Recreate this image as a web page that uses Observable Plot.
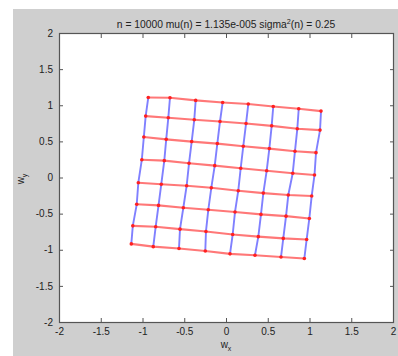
<!DOCTYPE html>
<html>
<head>
<meta charset="utf-8">
<script src="https://cdn.jsdelivr.net/npm/d3@7"></script>
<script src="https://cdn.jsdelivr.net/npm/@observablehq/plot@0.6"></script>
<style>
  html, body { margin: 0; padding: 0; background: #ffffff; }
  #wrap { position: relative; width: 398px; height: 356px; overflow: hidden; font-family: "Liberation Sans", Arial, sans-serif; }
  #bg { position: absolute; left: 13px; top: 9px; right: 0; bottom: 0; background: #cfcfcf; }
  #chart { position: absolute; left: 0; top: 0; }
  .lbl { position: absolute; color: #222; white-space: nowrap; line-height: 10px; }
  sub, sup { font-size: 70%; line-height: 0; }
</style>
</head>
<body>
<div id="wrap">
  <div id="bg"></div>
  <div id="chart"></div>
  <div class="lbl" id="title" style="left:226px; top:19.5px; font-size:10.3px; transform:translateX(-50%);">n = 10000 mu(n) = 1.135e-005 sigma<sup>2</sup>(n) = 0.25</div>
  <div class="lbl" id="xlab" style="left:226px; top:340px; font-size:10px; transform:translateX(-50%);">w<sub>x</sub></div>
  <div class="lbl" id="ylab" style="left:21px; top:179px; font-size:10px; transform:translate(-50%,-50%) rotate(-90deg);">w<sub>y</sub></div>
</div>
<script>
// SOM weight grid (8 x 8 nodes): wx[row][col], wy[row][col]
const wx = [
  [-0.937, -0.677, -0.369, -0.046, 0.261, 0.560, 0.865, 1.132],
  [-0.968, -0.697, -0.386, -0.078, 0.234, 0.541, 0.848, 1.120],
  [-0.990, -0.722, -0.417, -0.110, 0.201, 0.513, 0.820, 1.072],
  [-1.014, -0.745, -0.449, -0.141, 0.170, 0.481, 0.793, 1.054],
  [-1.056, -0.781, -0.477, -0.182, 0.141, 0.441, 0.740, 1.020],
  [-1.075, -0.814, -0.517, -0.218, 0.102, 0.413, 0.713, 0.992],
  [-1.122, -0.848, -0.557, -0.246, 0.074, 0.381, 0.680, 0.960],
  [-1.140, -0.877, -0.569, -0.254, 0.042, 0.341, 0.653, 0.932]
];
const wy = [
  [1.114, 1.111, 1.074, 1.046, 1.024, 0.990, 0.958, 0.926],
  [0.857, 0.833, 0.806, 0.782, 0.754, 0.722, 0.681, 0.663],
  [0.567, 0.535, 0.504, 0.476, 0.440, 0.407, 0.371, 0.351],
  [0.253, 0.240, 0.204, 0.171, 0.135, 0.100, 0.065, 0.042],
  [-0.065, -0.086, -0.107, -0.136, -0.176, -0.209, -0.236, -0.250],
  [-0.364, -0.379, -0.412, -0.440, -0.470, -0.504, -0.528, -0.560],
  [-0.662, -0.674, -0.708, -0.740, -0.782, -0.812, -0.836, -0.851],
  [-0.912, -0.950, -0.976, -1.010, -1.050, -1.069, -1.093, -1.115]
];
const xTicks = [-2, -1.5, -1, -0.5, 0, 0.5, 1, 1.5, 2];
const yTicks = [-2, -1.5, -1, -0.5, 0, 0.5, 1, 1.5, 2];

const nodes = [];
wx.forEach((r, i) => r.forEach((v, j) => nodes.push({row: i, col: j, x: v, y: wy[i][j]})));

const fmt = d => String(d);
const axisColor = "#555";

const chart = Plot.plot({
  width: 398,
  height: 356,
  marginLeft: 59,
  marginRight: 5,
  marginTop: 33,
  marginBottom: 34,
  style: {background: "transparent", fontSize: "10px", fontFamily: "'Liberation Sans', Arial, sans-serif", color: "#222"},
  x: {domain: [-2, 2], axis: null},
  y: {domain: [-2, 2], axis: null},
  marks: [
    Plot.frame({fill: "white", stroke: null}),
    Plot.line(nodes, {x: "x", y: "y", z: "col", stroke: "#8080ff", strokeWidth: 1.9, curve: "linear"}),
    Plot.line(nodes, {x: "x", y: "y", z: "row", stroke: "#ff7878", strokeWidth: 2.1, curve: "linear"}),
    Plot.dot(nodes, {x: "x", y: "y", r: 1.8, fill: "#ff2020", stroke: null}),
    Plot.axisX(xTicks, {anchor: "bottom", tickSize: -4, tickPadding: 9, tickFormat: fmt, label: null, stroke: axisColor, fill: "#222"}),
    Plot.axisX(xTicks, {anchor: "top", tickSize: -4, tickFormat: () => "", label: null, stroke: axisColor}),
    Plot.axisY(yTicks, {anchor: "left", tickSize: -4, tickPadding: 10.5, tickFormat: fmt, label: null, stroke: axisColor, fill: "#222"}),
    Plot.axisY(yTicks, {anchor: "right", tickSize: -4, tickFormat: () => "", label: null, stroke: axisColor}),
    Plot.frame({stroke: axisColor, strokeWidth: 1.2})
  ]
});
document.getElementById("chart").appendChild(chart);
</script>
</body>
</html>
